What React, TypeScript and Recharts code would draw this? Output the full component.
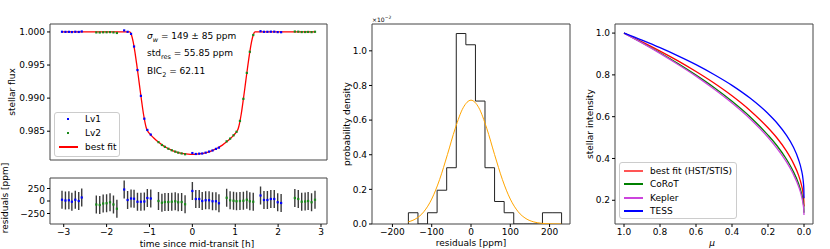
import React from "react";
import {
  ComposedChart,
  LineChart,
  Line,
  Scatter,
  ErrorBar,
  XAxis,
  YAxis,
  ReferenceArea
} from "recharts";

// ---- transit light curve (time in h, flux, residual in ppm) ----
const lv1Time = [
  -3.04, -2.96, -2.88, -2.81, -2.73, -2.65, -2.58,
  -1.59, -1.51, -1.43, -1.36, -1.28, -1.2, -1.12, -1.05, -0.97,
  0, 0.08, 0.16, 0.23, 0.31, 0.39, 0.47, 0.55, 0.62,
  1.59, 1.67, 1.75, 1.83, 1.91, 1.99, 2.07
];
const lv1Flux = [
  1.000025, 1.00001, 1.000015, 0.999985, 1.000025, 1.0, 1.00007,
  1.00023, 1.00002, 0.99971, 0.9978, 0.99424, 0.99034, 0.98689, 0.98519, 0.98449,
  0.9817, 0.98156, 0.98161, 0.98163, 0.98176, 0.98192, 0.98209, 0.98233, 0.98252,
  1.00011, 1.00002, 1.00002, 1.00004, 1.00004, 0.999975, 0.99996
];
const lv1Res = [
  25, 10, 15, -15, 25, 0, 70,
  230, 20, 50, 45, -15, -15, -10, 60, 50,
  200, 40, 40, 0, 15, 15, -5, -5, -45,
  110, 20, 20, 40, 40, -25, -40
];

const lv2Time = [
  -2.24, -2.16, -2.08, -2.0, -1.92, -1.84, -1.76,
  -0.79, -0.71, -0.64, -0.56, -0.48, -0.4, -0.33, -0.25, -0.17,
  0.8, 0.88, 0.96, 1.03, 1.11, 1.19, 1.27, 1.34, 1.42,
  2.39, 2.47, 2.55, 2.63, 2.7, 2.78, 2.86
];
const lv2Flux = [
  0.99993, 0.99992, 0.99995, 0.999955, 0.999975, 0.99993, 0.999845,
  0.98335, 0.98292, 0.98264, 0.98235, 0.98212, 0.98192, 0.98176, 0.98164, 0.98152,
  0.98347, 0.98388, 0.98438, 0.98491, 0.98655, 0.98989, 0.99381, 0.997, 0.99954,
  1.00006, 1.00004, 0.999985, 0.99999, 1.0, 0.999975, 1.000025
];
const lv2Res = [
  -70, -80, -50, -45, -25, -70, -155,
  0, -35, -20, -20, -15, -5, -25, -20, -65,
  65, 15, 5, -5, 0, 5, 25, -5, -15,
  60, 40, -15, -10, 0, -25, 25
];
const resErr = 180;

const fitTime = [
  -3.04, -1.46, -1.42, -1.38, -1.34, -1.3, -1.26, -1.22, -1.18, -1.14, -1.1, -1.07, -1.04, -1.0,
  -0.95, -0.9, -0.8, -0.7, -0.6, -0.5, -0.4, -0.3, -0.2, -0.1, 0,
  0.1, 0.2, 0.3, 0.4, 0.5, 0.6, 0.7, 0.8, 0.9, 0.95,
  1.0, 1.04, 1.07, 1.1, 1.14, 1.18, 1.22, 1.26, 1.3, 1.34, 1.38, 1.42, 1.46, 2.86
];
const fitFlux = [
  1.0, 1.0, 0.99955, 0.9985, 0.997, 0.9952, 0.9933, 0.9913, 0.9894, 0.9876, 0.9862, 0.9854, 0.985, 0.98465,
  0.9843, 0.98398, 0.9834, 0.9829, 0.9825, 0.98218, 0.98192, 0.98172, 0.9816, 0.98153, 0.9815,
  0.98153, 0.9816, 0.98172, 0.98192, 0.98218, 0.9825, 0.9829, 0.9834, 0.98398, 0.9843,
  0.98465, 0.985, 0.9854, 0.9862, 0.9876, 0.9894, 0.9913, 0.9933, 0.9952, 0.997, 0.9985, 0.99955, 1.0, 1.0
];

// ---- residual histogram (ppm, density x1e-2) ----
const histEdges = [
  -159.4, -135.0, -110.6, -86.3, -61.9, -37.5, -13.1, 11.3, 35.6,
  60.0, 84.4, 108.8, 133.1, 157.5, 181.9, 206.3, 230.6
];
const histDensity = [0.065, 0, 0.065, 0.195, 0.325, 1.1, 1.035, 0.71, 0.325, 0.13, 0.065, 0, 0, 0, 0.065, 0.065];
const gaussX = [-160, -140, -120, -100, -80, -60, -40, -20, 0, 20, 40, 60, 80, 100, 120, 140, 160, 180, 200, 230];
const gaussY = [
  0.012, 0.031, 0.071, 0.144, 0.256, 0.401, 0.553, 0.671, 0.715, 0.671,
  0.553, 0.401, 0.256, 0.144, 0.071, 0.031, 0.012, 0.004, 0.001, 0.0
];

// ---- limb darkening profiles ----
const muGrid = [1, 0.9, 0.8, 0.7, 0.6, 0.5, 0.4, 0.3, 0.2, 0.15, 0.1, 0.06, 0.03, 0.015, 0.005, 0.001, 0];
const ldFit = [1, 0.958, 0.914, 0.867, 0.816, 0.761, 0.7, 0.63, 0.547, 0.498, 0.439, 0.379, 0.319, 0.276, 0.232, 0.198, 0.17];
const ldCorot = [1, 0.954, 0.906, 0.854, 0.799, 0.74, 0.674, 0.6, 0.512, 0.461, 0.4, 0.339, 0.279, 0.237, 0.195, 0.164, 0.14];
const ldKepler = [1, 0.953, 0.903, 0.85, 0.794, 0.732, 0.665, 0.59, 0.501, 0.448, 0.387, 0.326, 0.266, 0.224, 0.182, 0.152, 0.13];
const ldTess = [1, 0.966, 0.93, 0.891, 0.849, 0.802, 0.75, 0.689, 0.615, 0.57, 0.514, 0.456, 0.394, 0.348, 0.298, 0.255, 0.21];

const FONT = "'DejaVu Sans', sans-serif";
const tickStyle = { fontSize: 9, fill: "#000", fontFamily: FONT };
const frame = { fill: "none", stroke: "#444", strokeWidth: 1, ifOverflow: "visible" as const };
const minus = (s: string) => s.replace("-", "\u2212");

const lv1Points = lv1Time.map((t, i) => ({ t, f: lv1Flux[i], r: lv1Res[i], err: resErr }));
const lv2Points = lv2Time.map((t, i) => ({ t, f: lv2Flux[i], r: lv2Res[i], err: resErr }));
const fitPoints = fitTime.map((t, i) => ({ t, f: fitFlux[i] }));

const histStep = [
  { x: histEdges[0], y: 0 },
  ...histDensity.map((y, i) => ({ x: histEdges[i], y })),
  { x: histEdges[histEdges.length - 1], y: 0 }
];
const gaussPoints = gaussX.map((x, i) => ({ x, y: gaussY[i] }));

const ldRows = muGrid.map((mu, i) => ({
  mu,
  fit: ldFit[i],
  corot: ldCorot[i],
  kepler: ldKepler[i],
  tess: ldTess[i]
}));

const dot = (color: string) => (p: any) => <rect x={p.cx - 1.1} y={p.cy - 1.1} width={2.2} height={2.2} fill={color} />;

const axisProps = {
  tick: tickStyle,
  tickSize: 3,
  tickMargin: 2,
  axisLine: false,
  tickLine: { stroke: "#000" },
  interval: 0 as const,
  allowDataOverflow: true
};

function Txt({ x, y, rotate, size = 9, italic, children }: any) {
  return (
    <div
      style={{
        position: "absolute",
        left: x,
        top: y,
        transform: `translate(-50%, -50%)${rotate ? " rotate(-90deg)" : ""}`,
        fontSize: size,
        fontStyle: italic ? "italic" : "normal",
        whiteSpace: "nowrap",
        lineHeight: 1
      }}
    >
      {children}
    </div>
  );
}

function LegendRow({ y, color, label, kind }: { y: number; color: string; label: string; kind: "dot" | "line" }) {
  return (
    <div style={{ position: "absolute", left: 0, top: y, height: 0, width: "100%" }}>
      {kind === "line" ? (
        <div style={{ position: "absolute", left: 4, top: -1, width: 19, height: 1.5, background: color }} />
      ) : (
        <div style={{ position: "absolute", left: 12, top: -1, width: 2.2, height: 2.2, background: color }} />
      )}
      <div style={{ position: "absolute", left: 30, top: -5, fontSize: 9, lineHeight: "10px", whiteSpace: "nowrap" }}>{label}</div>
    </div>
  );
}

export default function App() {
  return (
    <div style={{ position: "relative", width: 830, height: 249, background: "#fff", fontFamily: FONT, color: "#000" }}>
      <style>{"body{margin:0}"}</style>

      {/* light curve */}
      <div style={{ position: "absolute", left: 0, top: 0 }}>
        <ComposedChart width={340} height={170} margin={{ top: 24, right: 13, bottom: 10, left: 0 }}>
          <XAxis dataKey="t" type="number" domain={[-3.32, 3.14]} hide allowDataOverflow />
          <YAxis
            type="number"
            domain={[0.98065, 1.0012]}
            ticks={[0.985, 0.99, 0.995, 1.0]}
            tickFormatter={(v: number) => v.toFixed(3)}
            width={50}
            {...axisProps}
          />
          <Line data={fitPoints} dataKey="f" stroke="#ff0000" strokeWidth={1.3} dot={false} type="monotone" isAnimationActive={false} />
          <Scatter data={lv1Points} dataKey="f" shape={dot("#0000ff")} isAnimationActive={false} />
          <Scatter data={lv2Points} dataKey="f" shape={dot("#1a8a1a")} isAnimationActive={false} />
          <ReferenceArea x1={-3.32} x2={3.14} y1={0.98065} y2={1.0012} {...frame} />
        </ComposedChart>
      </div>

      {/* residuals */}
      <div style={{ position: "absolute", left: 0, top: 165 }}>
        <ComposedChart width={340} height={84} margin={{ top: 13, right: 13, bottom: 0, left: 0 }}>
          <XAxis
            dataKey="t"
            type="number"
            domain={[-3.32, 3.14]}
            ticks={[-3, -2, -1, 0, 1, 2, 3]}
            tickFormatter={(v: number) => minus(String(v))}
            height={25}
            {...axisProps}
          />
          <YAxis
            type="number"
            domain={[-460, 460]}
            ticks={[-250, 0, 250]}
            tickFormatter={(v: number) => minus(String(v))}
            width={50}
            {...axisProps}
          />
          <Scatter data={lv1Points} dataKey="r" shape={dot("#0000ff")} isAnimationActive={false}>
            <ErrorBar dataKey="err" direction="y" width={0} stroke="#3a3a3a" strokeWidth={1.4} />
          </Scatter>
          <Scatter data={lv2Points} dataKey="r" shape={dot("#1a8a1a")} isAnimationActive={false}>
            <ErrorBar dataKey="err" direction="y" width={0} stroke="#3a3a3a" strokeWidth={1.4} />
          </Scatter>
          <ReferenceArea x1={-3.32} x2={3.14} y1={-460} y2={460} {...frame} />
        </ComposedChart>
      </div>

      {/* histogram */}
      <div style={{ position: "absolute", left: 330, top: 0 }}>
        <ComposedChart width={250} height={249} margin={{ top: 24, right: 10, bottom: 0, left: 0 }}>
          <XAxis
            dataKey="x"
            type="number"
            domain={[-252, 252]}
            ticks={[-200, -100, 0, 100, 200]}
            tickFormatter={(v: number) => minus(String(v))}
            height={25}
            {...axisProps}
          />
          <YAxis
            type="number"
            domain={[0, 1.155]}
            ticks={[0, 0.2, 0.4, 0.6, 0.8, 1.0]}
            tickFormatter={(v: number) => v.toFixed(1)}
            width={42}
            {...axisProps}
          />
          <Line data={histStep} dataKey="y" type="stepAfter" stroke="#222" strokeWidth={1} dot={false} isAnimationActive={false} />
          <Line data={gaussPoints} dataKey="y" type="monotone" stroke="#ffa500" strokeWidth={1} dot={false} isAnimationActive={false} />
          <ReferenceArea x1={-252} x2={252} y1={0} y2={1.155} {...frame} />
        </ComposedChart>
      </div>

      {/* limb darkening */}
      <div style={{ position: "absolute", left: 580, top: 0 }}>
        <LineChart width={250} height={249} data={ldRows} margin={{ top: 24, right: 17, bottom: 0, left: 0 }}>
          <XAxis
            dataKey="mu"
            type="number"
            domain={[-0.05, 1.05]}
            reversed
            ticks={[0, 0.2, 0.4, 0.6, 0.8, 1.0]}
            tickFormatter={(v: number) => v.toFixed(1)}
            height={25}
            {...axisProps}
          />
          <YAxis
            type="number"
            domain={[0.0865, 1.0435]}
            ticks={[0.2, 0.4, 0.6, 0.8, 1.0]}
            tickFormatter={(v: number) => v.toFixed(1)}
            width={35}
            {...axisProps}
          />
          <Line dataKey="fit" stroke="#ff0000" strokeWidth={1.3} dot={false} type="monotone" isAnimationActive={false} />
          <Line dataKey="corot" stroke="#008000" strokeWidth={1.3} dot={false} type="monotone" isAnimationActive={false} />
          <Line dataKey="kepler" stroke="#cc44dd" strokeWidth={1.3} dot={false} type="monotone" isAnimationActive={false} />
          <Line dataKey="tess" stroke="#0000ff" strokeWidth={1.3} dot={false} type="monotone" isAnimationActive={false} />
          <ReferenceArea x1={-0.05} x2={1.05} y1={0.0865} y2={1.0435} {...frame} />
        </LineChart>
      </div>

      {/* axis titles */}
      <Txt x={12} y={92} rotate>stellar flux</Txt>
      <Txt x={5} y={198} rotate>residuals [ppm]</Txt>
      <Txt x={197} y={243.5}>time since mid-transit [h]</Txt>
      <Txt x={347} y={124} rotate>probability density</Txt>
      <Txt x={471} y={243}>residuals [ppm]</Txt>
      <Txt x={590} y={124} rotate>stellar intensity</Txt>
      <Txt x={712} y={243} italic>μ</Txt>
      <div style={{ position: "absolute", left: 372, top: 16, fontSize: 6, lineHeight: 1 }}>
        ×10<sup style={{ fontSize: 4.5 }}>−2</sup>
      </div>

      {/* fit statistics */}
      <div style={{ position: "absolute", left: 147, top: 30, fontSize: 9, lineHeight: "13.5px", whiteSpace: "nowrap" }}>
        <div>
          <i>σ</i>
          <sub style={{ fontSize: 6.5 }}>
            <i>w</i>
          </sub>{" "}
          = 149 ± 85 ppm
        </div>
        <div>
          std<sub style={{ fontSize: 6.5 }}>res</sub> = 55.85 ppm
        </div>
        <div>
          BIC<sub style={{ fontSize: 6.5 }}>2</sub> = 62.11
        </div>
      </div>

      {/* left legend */}
      <div
        style={{
          position: "absolute",
          left: 54,
          top: 112,
          width: 66,
          height: 45,
          border: "1px solid #ccc",
          borderRadius: 3,
          background: "rgba(255,255,255,0.8)",
          boxSizing: "border-box"
        }}
      >
        <LegendRow y={6} color="#0000ff" label="Lv1" kind="dot" />
        <LegendRow y={20} color="#1a8a1a" label="Lv2" kind="dot" />
        <LegendRow y={34} color="#ff0000" label="best fit" kind="line" />
      </div>

      {/* right legend */}
      <div
        style={{
          position: "absolute",
          left: 619,
          top: 162,
          width: 118,
          height: 57,
          border: "1px solid #ccc",
          borderRadius: 3,
          background: "rgba(255,255,255,0.8)",
          boxSizing: "border-box"
        }}
      >
        <LegendRow y={8} color="#ff5555" label="best fit (HST/STIS)" kind="line" />
        <LegendRow y={21} color="#008000" label="CoRoT" kind="line" />
        <LegendRow y={35} color="#cc44dd" label="Kepler" kind="line" />
        <LegendRow y={48} color="#0000ff" label="TESS" kind="line" />
      </div>
    </div>
  );
}
